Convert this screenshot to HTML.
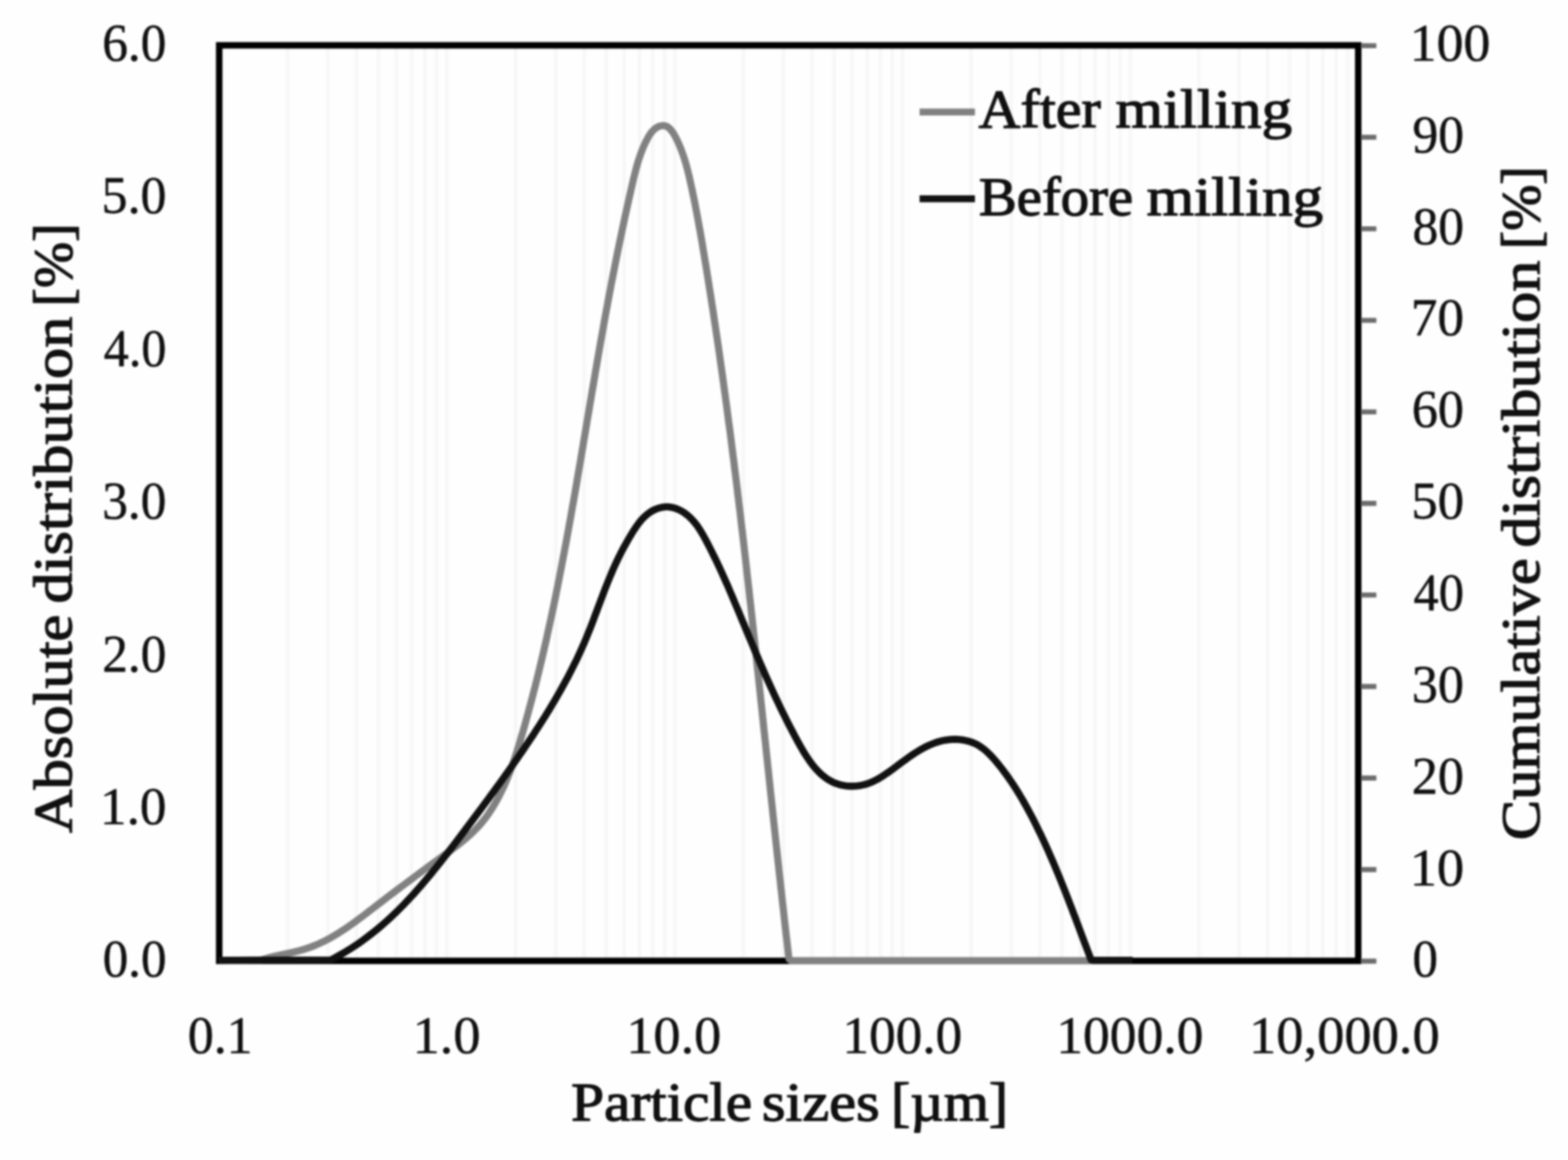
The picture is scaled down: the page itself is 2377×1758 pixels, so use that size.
<!DOCTYPE html>
<html lang="en"><head><meta charset="utf-8"><title>Particle size distribution</title>
<style>html,body{margin:0;padding:0;background:#fff;}body{width:2377px;height:1758px;overflow:hidden;}svg{display:block;}text{font-family:"Liberation Serif","DejaVu Serif",serif;font-weight:normal;fill:#101010;stroke:#101010;stroke-width:2.2px;stroke-linejoin:round;}.t{stroke-width:0.9px;}</style>
</head><body>
<svg width="2377" height="1758" viewBox="0 0 2377 1758">
<defs><filter id="soft" x="0" y="0" width="2377" height="1758" filterUnits="userSpaceOnUse" color-interpolation-filters="sRGB"><feGaussianBlur stdDeviation="1.7"/></filter></defs>
<rect x="0" y="0" width="2377" height="1758" fill="#fefefe"/>
<g filter="url(#soft)">
<rect x="0" y="0" width="2377" height="1758" fill="#fefefe"/>
<path d="M436.3 68.7V1456.2M497.1 68.7V1456.2M540.2 68.7V1456.2M573.7 68.7V1456.2M601.0 68.7V1456.2M624.1 68.7V1456.2M644.2 68.7V1456.2M661.8 68.7V1456.2M677.6 68.7V1456.2M781.6 68.7V1456.2M842.4 68.7V1456.2M885.6 68.7V1456.2M919.0 68.7V1456.2M946.4 68.7V1456.2M969.5 68.7V1456.2M989.5 68.7V1456.2M1007.2 68.7V1456.2M1023.0 68.7V1456.2M1126.9 68.7V1456.2M1187.7 68.7V1456.2M1230.9 68.7V1456.2M1264.4 68.7V1456.2M1291.7 68.7V1456.2M1314.8 68.7V1456.2M1334.9 68.7V1456.2M1352.5 68.7V1456.2M1368.3 68.7V1456.2M1472.3 68.7V1456.2M1533.1 68.7V1456.2M1576.2 68.7V1456.2M1609.7 68.7V1456.2M1637.0 68.7V1456.2M1660.2 68.7V1456.2M1680.2 68.7V1456.2M1697.9 68.7V1456.2M1713.7 68.7V1456.2M1817.6 68.7V1456.2M1878.4 68.7V1456.2M1921.6 68.7V1456.2M1955.0 68.7V1456.2M1982.4 68.7V1456.2M2005.5 68.7V1456.2M2025.5 68.7V1456.2M2043.2 68.7V1456.2" stroke="#f7f7f7" stroke-width="5.5" fill="none"/>
<rect x="332.3" y="68.7" width="1726.7" height="1387.5" fill="none" stroke="#000" stroke-width="9.8"/>
<path d="M2063.0 69.3H2086.5M2063.0 208.0H2086.5M2063.0 346.8H2086.5M2063.0 485.5H2086.5M2063.0 624.2H2086.5M2063.0 762.9H2086.5M2063.0 901.7H2086.5M2063.0 1040.4H2086.5M2063.0 1179.1H2086.5M2063.0 1317.9H2086.5M2063.0 1456.6H2086.5" stroke="#6c6c6c" stroke-width="7.6" fill="none"/>
<path d="M332.3 1455.8L396.0 1455.0L402.5 1452.9L409.2 1451.0L416.0 1449.3L422.8 1447.8L429.8 1446.3L436.7 1444.8L443.7 1443.2L450.6 1441.6L457.4 1439.7L464.2 1437.7L470.8 1435.4L477.2 1432.9L483.6 1430.1L489.9 1427.2L496.1 1424.0L502.2 1420.7L508.2 1417.2L514.1 1413.6L519.9 1409.8L525.7 1405.9L531.5 1401.9L537.2 1397.8L542.8 1393.7L548.5 1389.5L554.1 1385.2L559.7 1380.9L565.2 1376.7L570.8 1372.4L576.4 1368.1L582.0 1363.9L587.5 1359.6L593.1 1355.4L598.7 1351.1L604.3 1346.9L609.9 1342.7L615.5 1338.5L621.1 1334.4L626.7 1330.2L632.3 1326.0L637.9 1321.9L643.5 1317.7L649.1 1313.6L654.8 1309.5L660.4 1305.4L666.1 1301.3L671.8 1297.2L677.4 1293.1L683.0 1289.0L688.6 1284.8L694.2 1280.6L699.6 1276.3L705.0 1271.9L710.2 1267.3L715.3 1262.7L720.2 1257.8L725.0 1252.8L729.6 1247.6L734.0 1242.2L738.2 1236.7L742.2 1230.9L746.0 1225.0L749.7 1219.0L753.2 1212.9L756.5 1206.7L759.7 1200.4L762.8 1194.0L765.7 1187.6L768.4 1181.1L771.1 1174.6L773.6 1168.1L776.0 1161.5L778.4 1154.9L780.6 1148.3L782.8 1141.6L784.9 1135.0L786.9 1128.3L788.9 1121.6L790.9 1114.9L792.9 1108.2L794.8 1101.5L796.7 1094.7L798.5 1088.0L800.4 1081.3L802.2 1074.5L804.0 1067.8L805.8 1061.0L807.6 1054.3L809.3 1047.5L811.1 1040.8L812.8 1034.0L814.5 1027.2L816.2 1020.4L817.8 1013.7L819.4 1006.9L821.1 1000.1L822.7 993.3L824.3 986.5L825.8 979.7L827.4 972.9L828.9 966.1L830.4 959.2L831.9 952.4L833.4 945.6L834.9 938.8L836.4 931.9L837.8 925.1L839.3 918.3L840.7 911.4L842.1 904.6L843.5 897.7L844.9 890.9L846.2 884.0L847.6 877.2L848.9 870.3L850.3 863.4L851.6 856.6L852.9 849.7L854.2 842.8L855.5 836.0L856.8 829.1L858.1 822.2L859.4 815.3L860.6 808.5L861.9 801.6L863.1 794.7L864.4 787.8L865.6 780.9L866.8 774.0L868.0 767.1L869.3 760.2L870.5 753.4L871.7 746.5L872.9 739.6L874.1 732.7L875.2 725.8L876.4 718.9L877.6 712.0L878.8 705.1L880.0 698.2L881.1 691.3L882.3 684.4L883.5 677.5L884.6 670.5L885.8 663.6L887.0 656.7L888.1 649.8L889.3 642.9L890.4 636.0L891.6 629.1L892.8 622.2L893.9 615.3L895.1 608.4L896.3 601.5L897.4 594.6L898.6 587.7L899.8 580.8L901.0 573.9L902.1 567.0L903.3 560.1L904.5 553.2L905.7 546.3L906.9 539.4L908.1 532.5L909.3 525.6L910.5 518.7L911.7 511.8L913.0 504.9L914.2 498.1L915.4 491.2L916.7 484.3L917.9 477.4L919.2 470.5L920.5 463.6L921.7 456.8L923.0 449.9L924.3 443.0L925.6 436.2L926.9 429.3L928.3 422.4L929.6 415.6L931.0 408.7L932.3 401.9L933.7 395.0L935.0 388.2L936.4 381.3L937.8 374.5L939.2 367.6L940.7 360.8L942.1 354.0L943.5 347.1L945.0 340.3L946.4 333.5L947.9 326.7L949.4 319.9L950.9 313.1L952.4 306.3L953.9 299.5L955.5 292.7L957.0 285.9L958.6 279.1L960.1 272.3L961.8 265.5L963.5 258.8L965.3 252.0L967.2 245.3L969.4 238.6L971.7 231.9L974.3 225.3L977.2 218.7L980.4 212.1L984.0 205.6L988.2 199.6L993.4 194.6L999.4 191.3L1005.5 190.2L1011.0 191.6L1015.7 195.3L1019.9 200.5L1023.6 206.8L1026.9 213.4L1029.9 220.1L1032.7 226.8L1035.1 233.5L1037.4 240.2L1039.4 246.9L1041.3 253.7L1043.0 260.4L1044.7 267.2L1046.2 274.0L1047.7 280.8L1049.2 287.6L1050.6 294.4L1052.0 301.2L1053.4 308.0L1054.7 314.9L1056.0 321.7L1057.3 328.6L1058.6 335.5L1059.8 342.4L1061.1 349.2L1062.3 356.1L1063.5 363.0L1064.7 369.9L1065.8 376.8L1067.0 383.7L1068.1 390.6L1069.2 397.5L1070.4 404.4L1071.5 411.3L1072.6 418.2L1073.7 425.1L1074.8 432.0L1075.9 439.0L1077.0 445.9L1078.1 452.8L1079.1 459.7L1080.2 466.6L1081.3 473.5L1082.3 480.4L1083.3 487.4L1084.4 494.3L1085.4 501.2L1086.4 508.1L1087.5 515.0L1088.5 522.0L1089.5 528.9L1090.5 535.8L1091.5 542.7L1092.4 549.6L1093.4 556.6L1094.4 563.5L1095.4 570.4L1096.3 577.3L1097.3 584.3L1098.2 591.2L1099.2 598.1L1100.1 605.1L1101.1 612.0L1102.0 618.9L1102.9 625.9L1103.8 632.8L1104.7 639.7L1105.7 646.7L1106.6 653.6L1107.5 660.5L1108.4 667.5L1109.2 674.4L1110.1 681.3L1111.0 688.3L1111.9 695.2L1112.8 702.2L1113.6 709.1L1114.5 716.0L1115.4 723.0L1116.2 729.9L1117.1 736.9L1117.9 743.8L1118.7 750.8L1119.6 757.7L1120.4 764.6L1121.3 771.6L1122.1 778.5L1122.9 785.5L1123.7 792.4L1124.5 799.4L1125.4 806.3L1126.2 813.3L1127.0 820.2L1127.8 827.2L1128.6 834.1L1129.4 841.1L1130.2 848.0L1131.0 855.0L1131.8 861.9L1132.5 868.9L1133.3 875.8L1134.1 882.8L1134.9 889.7L1135.7 896.7L1136.4 903.6L1137.2 910.6L1138.0 917.5L1138.7 924.5L1139.5 931.4L1140.3 938.4L1141.0 945.3L1141.8 952.3L1142.5 959.2L1143.3 966.2L1144.1 973.2L1144.8 980.1L1145.6 987.1L1146.3 994.0L1147.1 1001.0L1147.8 1007.9L1148.5 1014.9L1149.3 1021.8L1150.0 1028.8L1150.8 1035.8L1151.5 1042.7L1152.3 1049.7L1153.0 1056.6L1153.7 1063.6L1154.5 1070.5L1155.2 1077.5L1155.9 1084.5L1156.7 1091.4L1157.4 1098.4L1158.1 1105.3L1158.9 1112.3L1159.6 1119.2L1160.4 1126.2L1161.1 1133.2L1161.8 1140.1L1162.6 1147.1L1163.3 1154.0L1164.0 1161.0L1164.8 1167.9L1165.5 1174.9L1166.2 1181.9L1167.0 1188.8L1167.7 1195.8L1168.4 1202.7L1169.2 1209.7L1169.9 1216.6L1170.7 1223.6L1171.4 1230.5L1172.1 1237.5L1172.9 1244.5L1173.6 1251.4L1174.4 1258.4L1175.1 1265.3L1175.9 1272.3L1176.6 1279.2L1177.4 1286.2L1178.1 1293.1L1178.9 1300.1L1179.6 1307.1L1180.4 1314.0L1181.1 1321.0L1181.9 1327.9L1182.7 1334.9L1183.4 1341.8L1184.2 1348.8L1185.0 1355.7L1185.7 1362.7L1186.5 1369.6L1187.3 1376.6L1188.1 1383.5L1188.8 1390.5L1189.6 1397.4L1190.4 1404.4L1191.2 1411.3L1192.0 1418.3L1192.8 1425.2L1193.6 1432.2L1194.4 1439.1L1195.2 1446.1L1196.0 1453.0L1199.0 1455.8L1717.0 1455.8" stroke="#818181" stroke-width="10.8" fill="none" stroke-linejoin="round" stroke-linecap="butt"/>
<path d="M332.3 1455.3L501.0 1455.0L505.5 1452.7L510.0 1450.3L514.5 1447.8L518.9 1445.3L523.2 1442.8L527.5 1440.1L531.8 1437.5L536.0 1434.8L540.2 1432.0L544.3 1429.2L548.4 1426.3L552.4 1423.4L556.4 1420.4L560.3 1417.4L564.2 1414.4L568.1 1411.3L571.9 1408.2L575.7 1405.0L579.5 1401.8L583.2 1398.5L586.9 1395.2L590.5 1391.9L594.2 1388.5L597.7 1385.1L601.3 1381.7L604.8 1378.2L608.3 1374.7L611.8 1371.2L615.2 1367.6L618.6 1364.0L622.0 1360.4L625.4 1356.8L628.7 1353.1L632.0 1349.4L635.3 1345.7L638.6 1341.9L641.8 1338.1L645.0 1334.4L648.2 1330.5L651.4 1326.7L654.6 1322.9L657.7 1319.0L660.9 1315.1L664.0 1311.2L667.1 1307.3L670.2 1303.4L673.3 1299.5L676.4 1295.5L679.4 1291.6L682.5 1287.6L685.5 1283.7L688.5 1279.7L691.6 1275.7L694.6 1271.7L697.6 1267.7L700.6 1263.7L703.6 1259.8L706.6 1255.8L709.6 1251.8L712.6 1247.8L715.6 1243.8L718.6 1239.8L721.6 1235.8L724.6 1231.8L727.6 1227.8L730.5 1223.8L733.5 1219.8L736.5 1215.8L739.4 1211.8L742.4 1207.7L745.3 1203.7L748.3 1199.7L751.2 1195.7L754.1 1191.7L757.1 1187.6L760.0 1183.6L762.9 1179.5L765.8 1175.5L768.7 1171.4L771.6 1167.4L774.4 1163.3L777.3 1159.3L780.1 1155.2L783.0 1151.1L785.8 1147.0L788.6 1142.9L791.5 1138.8L794.3 1134.7L797.0 1130.6L799.8 1126.5L802.6 1122.3L805.3 1118.2L808.1 1114.1L810.8 1109.9L813.5 1105.7L816.2 1101.6L818.9 1097.4L821.6 1093.2L824.2 1089.0L826.9 1084.8L829.5 1080.5L832.1 1076.3L834.7 1072.0L837.2 1067.8L839.8 1063.5L842.3 1059.2L844.8 1054.9L847.2 1050.6L849.7 1046.3L852.1 1041.9L854.5 1037.6L856.9 1033.2L859.3 1028.9L861.6 1024.5L863.9 1020.0L866.2 1015.6L868.4 1011.2L870.6 1006.7L872.8 1002.3L875.0 997.8L877.1 993.3L879.2 988.7L881.2 984.2L883.3 979.6L885.3 975.1L887.2 970.5L889.2 965.9L891.0 961.2L892.9 956.6L894.8 951.9L896.6 947.3L898.4 942.6L900.2 937.9L901.9 933.2L903.7 928.5L905.5 923.8L907.2 919.1L909.0 914.5L910.7 909.8L912.5 905.1L914.3 900.4L916.0 895.8L917.8 891.1L919.7 886.5L921.5 881.9L923.4 877.3L925.3 872.7L927.2 868.1L929.1 863.6L931.1 859.1L933.2 854.6L935.3 850.1L937.4 845.7L939.6 841.3L941.8 836.9L944.1 832.5L946.5 828.2L948.9 823.8L951.4 819.4L953.9 815.1L956.5 810.7L959.2 806.3L962.0 801.9L964.9 797.6L968.0 793.4L971.1 789.4L974.5 785.6L978.1 782.1L981.9 778.9L985.9 776.0L990.1 773.5L994.6 771.5L999.1 769.9L1003.8 768.8L1008.5 768.2L1013.2 768.2L1017.9 768.8L1022.5 769.9L1027.1 771.6L1031.5 773.6L1035.8 776.1L1039.9 779.0L1043.7 782.1L1047.3 785.5L1050.7 789.1L1053.9 792.9L1056.9 796.8L1059.7 801.0L1062.4 805.2L1065.0 809.5L1067.5 814.0L1069.9 818.4L1072.3 822.9L1074.6 827.4L1076.9 831.9L1079.2 836.4L1081.4 841.0L1083.7 845.5L1085.9 850.0L1088.0 854.6L1090.2 859.2L1092.3 863.7L1094.4 868.3L1096.4 872.9L1098.5 877.4L1100.5 882.0L1102.6 886.6L1104.6 891.2L1106.5 895.8L1108.5 900.4L1110.5 905.0L1112.4 909.6L1114.3 914.2L1116.3 918.8L1118.2 923.4L1120.1 927.9L1122.0 932.5L1123.9 937.1L1125.8 941.7L1127.7 946.2L1129.6 950.8L1131.5 955.3L1133.4 959.9L1135.3 964.4L1137.2 969.0L1139.1 973.5L1141.0 978.0L1142.9 982.6L1144.8 987.1L1146.7 991.6L1148.7 996.1L1150.6 1000.7L1152.5 1005.2L1154.5 1009.7L1156.5 1014.2L1158.4 1018.7L1160.4 1023.2L1162.4 1027.7L1164.4 1032.2L1166.5 1036.8L1168.5 1041.3L1170.6 1045.8L1172.6 1050.3L1174.7 1054.8L1176.9 1059.3L1179.0 1063.8L1181.1 1068.3L1183.3 1072.9L1185.5 1077.4L1187.7 1081.9L1190.0 1086.4L1192.2 1091.0L1194.5 1095.5L1196.8 1100.0L1199.2 1104.6L1201.6 1109.1L1204.0 1113.7L1206.4 1118.2L1208.9 1122.8L1211.4 1127.3L1213.9 1131.9L1216.5 1136.4L1219.1 1140.8L1221.9 1145.1L1224.7 1149.4L1227.5 1153.6L1230.5 1157.6L1233.6 1161.5L1236.8 1165.2L1240.1 1168.7L1243.5 1172.1L1247.0 1175.2L1250.7 1178.1L1254.5 1180.8L1258.5 1183.2L1262.7 1185.4L1267.0 1187.2L1271.5 1188.7L1276.2 1189.9L1281.0 1190.8L1286.0 1191.3L1291.0 1191.5L1296.1 1191.3L1301.1 1190.9L1306.1 1190.1L1310.9 1189.0L1315.7 1187.5L1320.3 1185.7L1324.8 1183.7L1329.2 1181.5L1333.6 1179.0L1337.8 1176.4L1342.0 1173.6L1346.2 1170.7L1350.3 1167.8L1354.4 1164.8L1358.5 1161.7L1362.6 1158.7L1366.7 1155.6L1370.9 1152.6L1375.0 1149.6L1379.1 1146.7L1383.3 1143.8L1387.5 1141.0L1391.8 1138.4L1396.0 1135.8L1400.4 1133.4L1404.8 1131.2L1409.2 1129.1L1413.7 1127.2L1418.3 1125.5L1423.0 1124.0L1427.7 1122.8L1432.5 1121.8L1437.4 1121.1L1442.4 1120.7L1447.4 1120.5L1452.4 1120.7L1457.3 1121.1L1462.2 1121.9L1467.0 1123.0L1471.7 1124.4L1476.3 1126.1L1480.7 1128.2L1484.9 1130.7L1489.0 1133.5L1492.9 1136.5L1496.6 1139.8L1500.2 1143.3L1503.7 1147.0L1507.1 1150.7L1510.4 1154.6L1513.6 1158.5L1516.8 1162.5L1519.9 1166.4L1522.9 1170.4L1525.9 1174.5L1528.8 1178.6L1531.6 1182.7L1534.4 1186.8L1537.2 1191.0L1539.9 1195.2L1542.5 1199.4L1545.1 1203.6L1547.6 1207.9L1550.2 1212.2L1552.6 1216.5L1555.1 1220.9L1557.5 1225.2L1559.8 1229.6L1562.2 1234.0L1564.5 1238.3L1566.8 1242.8L1569.0 1247.2L1571.2 1251.6L1573.4 1256.1L1575.6 1260.6L1577.8 1265.0L1579.9 1269.5L1582.0 1274.0L1584.1 1278.6L1586.2 1283.1L1588.2 1287.6L1590.2 1292.2L1592.2 1296.7L1594.2 1301.3L1596.2 1305.9L1598.1 1310.5L1600.1 1315.1L1602.0 1319.7L1603.9 1324.3L1605.8 1328.9L1607.7 1333.5L1609.5 1338.1L1611.4 1342.8L1613.2 1347.4L1615.1 1352.1L1616.9 1356.7L1618.7 1361.3L1620.5 1366.0L1622.3 1370.7L1624.1 1375.3L1625.9 1380.0L1627.6 1384.6L1629.4 1389.3L1631.2 1394.0L1632.9 1398.6L1634.7 1403.3L1636.4 1408.0L1638.2 1412.6L1639.9 1417.3L1641.7 1422.0L1643.4 1426.6L1645.2 1431.3L1646.9 1435.9L1648.7 1440.6L1650.5 1445.2L1652.2 1449.9L1654.0 1454.5L1657.0 1455.3L1717.0 1455.3" stroke="#111" stroke-width="10.8" fill="none" stroke-linejoin="round" stroke-linecap="butt"/>
<text transform="translate(154.88 91.88) scale(0.7797 0.8088)" font-size="100" class="t">6.0</text>
<text transform="translate(154.07 323.30) scale(0.7863 0.8088)" font-size="100" class="t">5.0</text>
<text transform="translate(157.24 554.72) scale(0.7603 0.8088)" font-size="100" class="t">4.0</text>
<text transform="translate(154.88 786.13) scale(0.7797 0.8088)" font-size="100" class="t">3.0</text>
<text transform="translate(154.88 1017.55) scale(0.7797 0.8088)" font-size="100" class="t">2.0</text>
<text transform="translate(151.54 1248.99) scale(0.8070 0.7971)" font-size="100" class="t">1.0</text>
<text transform="translate(155.68 1480.38) scale(0.7731 0.8088)" font-size="100" class="t">0.0</text>
<text transform="translate(2136.97 91.91) scale(0.8165 0.7971)" font-size="100" class="t">100</text>
<text transform="translate(2141.15 230.73) scale(0.7819 0.8088)" font-size="100" class="t">90</text>
<text transform="translate(2141.15 369.58) scale(0.7819 0.8088)" font-size="100" class="t">80</text>
<text transform="translate(2138.65 508.43) scale(0.8077 0.8088)" font-size="100" class="t">70</text>
<text transform="translate(2140.34 647.28) scale(0.7903 0.8088)" font-size="100" class="t">60</text>
<text transform="translate(2139.51 786.13) scale(0.7989 0.8088)" font-size="100" class="t">50</text>
<text transform="translate(2142.73 924.98) scale(0.7656 0.8088)" font-size="100" class="t">40</text>
<text transform="translate(2140.34 1063.83) scale(0.7903 0.8088)" font-size="100" class="t">30</text>
<text transform="translate(2140.34 1202.68) scale(0.7903 0.8088)" font-size="100" class="t">20</text>
<text transform="translate(2136.89 1341.56) scale(0.8258 0.7971)" font-size="100" class="t">10</text>
<text transform="translate(2141.18 1480.38) scale(0.7727 0.8088)" font-size="100" class="t">0</text>
<text transform="translate(284.64 1595.71) scale(0.7863 0.7971)" font-size="100" class="t">0.1</text>
<text transform="translate(625.40 1595.71) scale(0.8246 0.7971)" font-size="100" class="t">1.0</text>
<text transform="translate(949.41 1595.71) scale(0.8232 0.7971)" font-size="100" class="t">10.0</text>
<text transform="translate(1277.04 1595.71) scale(0.8075 0.7971)" font-size="100" class="t">100.0</text>
<text transform="translate(1601.21 1595.71) scale(0.8117 0.7971)" font-size="100" class="t">1000.0</text>
<text transform="translate(1893.39 1595.71) scale(0.8260 0.7971)" font-size="100" class="t">10,000.0</text>
<text transform="translate(865.80 1698.30) scale(0.8983 0.8200)" font-size="100">Particle</text>
<text transform="translate(1154.94 1698.30) scale(0.9185 0.8200)" font-size="100">sizes</text>
<text transform="translate(1350.73 1698.30) scale(0.8789 0.8200)" font-size="100">[µm]</text>
<text transform="translate(108.00 1262.40) rotate(-90) scale(0.9167 0.8200)" font-size="100">Absolute</text>
<text transform="translate(108.00 914.79) rotate(-90) scale(0.9434 0.8200)" font-size="100">distribution</text>
<text transform="translate(108.00 464.54) rotate(-90) scale(0.8399 0.8200)" font-size="100">[%]</text>
<text transform="translate(2332.50 1273.35) rotate(-90) scale(0.9158 0.8200)" font-size="100">Cumulative</text>
<text transform="translate(2332.50 829.89) rotate(-90) scale(0.9436 0.8200)" font-size="100">distribution</text>
<text transform="translate(2332.50 377.84) rotate(-90) scale(0.8399 0.8200)" font-size="100">[%]</text>
<path d="M1394 169.8H1478" stroke="#818181" stroke-width="10.4" fill="none"/>
<path d="M1394 301.3H1478" stroke="#111" stroke-width="10.4" fill="none"/>
<text transform="translate(1483.60 192.80) scale(0.8777 0.8200)" font-size="100">After</text>
<text transform="translate(1691.07 192.80) scale(0.9265 0.8200)" font-size="100">milling</text>
<text transform="translate(1483.98 325.90) scale(0.8590 0.8200)" font-size="100">Before</text>
<text transform="translate(1738.27 325.90) scale(0.9265 0.8200)" font-size="100">milling</text>
</g>
</svg></body></html>
